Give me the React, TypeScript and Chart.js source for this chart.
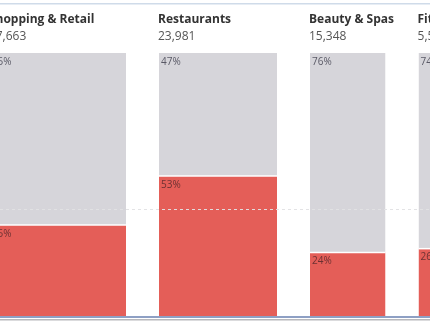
import React, { useEffect, useRef } from "react";
import { Chart, registerables } from "chart.js";

Chart.register(...registerables);

const categories = ["Shopping & Retail", "Restaurants", "Beauty & Spas", "Fitness & Instruction"];
const counts = [27663, 23981, 15348, 5547];
const redShare = [34.6, 53.2, 24.1, 25.6];
const averageShare = 40.6;
const GAP = 6707; // gap between columns, in count units
const X_MIN = 2056;
const X_MAX = 89445;

const RED = "#e45e58";
const GRAY = "#d6d5da";

function fmt(n: number) {
  return n.toLocaleString("en-US");
}

const starts: number[] = [];
{
  let acc = 0;
  counts.forEach((c) => {
    starts.push(acc);
    acc += c + GAP;
  });
}

export default function App() {
  const ref = useRef<HTMLCanvasElement | null>(null);

  useEffect(() => {
    document.body.style.margin = "0";
    const canvas = ref.current!;
    const datasets: any[] = [];
    counts.forEach((c, i) => {
      const s = starts[i];
      const e = s + c;
      datasets.push({
        type: "line",
        data: [
          { x: s, y: redShare[i] },
          { x: e, y: redShare[i] },
        ],
        borderColor: "#ffffff",
        borderWidth: 1.5,
        backgroundColor: RED,
        pointRadius: 0,
        fill: { value: 0 },
      });
      datasets.push({
        type: "line",
        data: [
          { x: s, y: 100 },
          { x: e, y: 100 },
        ],
        borderWidth: 0,
        borderColor: GRAY,
        backgroundColor: GRAY,
        pointRadius: 0,
        fill: { value: redShare[i] },
      });
    });

    const labelPlugin = {
      id: "labels",
      afterDraw(chart: any) {
        const ctx = chart.ctx;
        const xs = chart.scales.x;
        const ys = chart.scales.y;
        const area = chart.chartArea;
        ctx.save();
        // average dashed line
        const yAvg = Math.round(ys.getPixelForValue(averageShare)) + 0.5;
        ctx.strokeStyle = "rgba(225,225,228,0.95)";
        ctx.lineWidth = 1;
        ctx.setLineDash([3, 3]);
        ctx.beginPath();
        ctx.moveTo(0, yAvg);
        ctx.lineTo(chart.width, yAvg);
        ctx.stroke();
        ctx.setLineDash([]);
        // frame lines
        ctx.fillStyle = "#cfdbe9";
        ctx.fillRect(0, 3, chart.width, 1.5);
        ctx.fillStyle = "#8ea0c4";
        ctx.fillRect(0, area.bottom, chart.width, 2);
        ctx.fillStyle = "#b8b8bc";
        ctx.fillRect(0, area.bottom + 3, chart.width, 1.5);
        ctx.textBaseline = "alphabetic";
        ctx.textAlign = "left";
        counts.forEach((c, i) => {
          const px = xs.getPixelForValue(starts[i]);
          ctx.fillStyle = "#333333";
          ctx.font = "bold 12px 'Open Sans'";
          ctx.fillText(categories[i], px - 1, 23);
          ctx.fillStyle = "#555555";
          ctx.font = "12px 'Open Sans'";
          ctx.fillText(fmt(c), px - 1, 40);
          ctx.font = "10px 'Open Sans'";
          ctx.fillStyle = "rgba(40,40,55,0.72)";
          const grayPct = Math.round(100 - redShare[i]) + "%";
          const redPct = Math.round(redShare[i]) + "%";
          ctx.fillText(grayPct, px + 2, ys.getPixelForValue(100) + 11.5);
          ctx.fillStyle = "rgba(60,30,35,0.72)";
          ctx.fillText(redPct, px + 2, ys.getPixelForValue(redShare[i]) + 11.5);
        });
        ctx.restore();
      },
    };

    const chart = new Chart(canvas, {
      type: "line",
      data: { datasets },
      options: {
        animation: false,
        responsive: false,
        maintainAspectRatio: false,
        layout: { padding: { top: 53, bottom: 7, left: 0, right: 0 } },
        plugins: {
          legend: { display: false },
          tooltip: { enabled: false },
        },
        scales: {
          x: { type: "linear", min: X_MIN, max: X_MAX, display: false },
          y: { type: "linear", min: 0, max: 100, display: false },
        },
      },
      plugins: [labelPlugin],
    });
    return () => chart.destroy();
  }, []);

  return (
    <div style={{ position: "fixed", left: 0, top: 0, width: 430, height: 323, background: "#fff" }}>
      <canvas ref={ref} width={430} height={323} />
    </div>
  );
}
